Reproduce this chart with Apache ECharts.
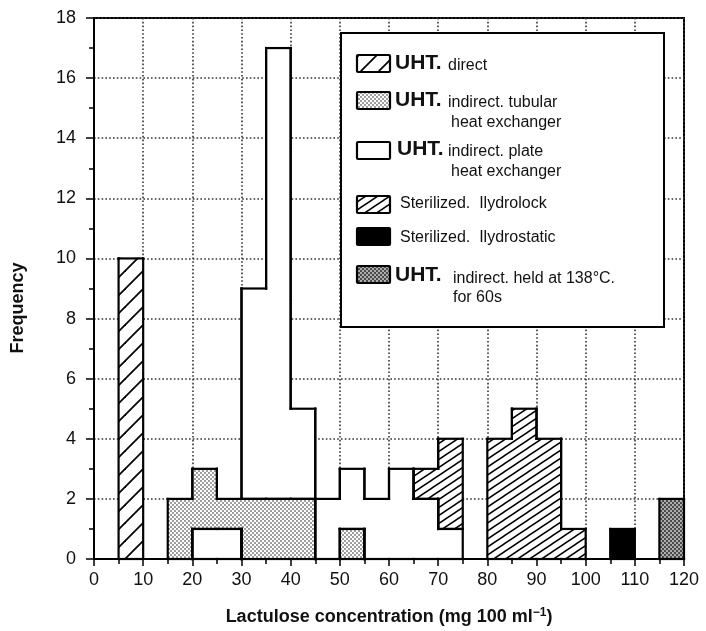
<!DOCTYPE html>
<html>
<head>
<meta charset="utf-8">
<script src="https://cdn.jsdelivr.net/npm/echarts@6/dist/echarts.min.js"></script>
<style>
  html, body { margin: 0; padding: 0; background: #fff; }
  #chart { width: 706px; height: 631px; }
</style>
</head>
<body>
<div id="chart"></div>
<script>
const FONT = '"Liberation Sans", Arial, Helvetica, sans-serif';

// Histogram bins are 5 mg/100 ml wide; each row is [bin start, stacked base, frequency]
const binWidth = 5;
const uhtDirect       = [[5, 0, 10]];
const uhtTubular      = [[15, 0, 2], [20, 1, 2], [25, 1, 1], [30, 0, 2], [35, 0, 2], [40, 0, 2], [50, 0, 1]];
const uhtPlate        = [[20, 0, 1], [25, 0, 1], [30, 2, 7], [35, 2, 15], [40, 2, 3], [45, 0, 2], [50, 1, 2],
                         [55, 0, 2], [60, 0, 3], [65, 0, 2], [70, 0, 1]];
const sterHydrolock   = [[65, 2, 1], [70, 1, 3], [80, 0, 4], [85, 0, 5], [90, 0, 4], [95, 0, 1]];
const sterHydrostatic = [[105, 0, 1]];
const uhtHeld138      = [[115, 0, 2]];

// Axis ranges and tick steps
const xRange = [0, 120], xStep = 10;
const yRange = [0, 18],  yStep = 2;

const xTitle = 'Lactulose concentration (mg 100 ml';
const yTitle = 'Frequency';

// ---- fill patterns ----
function tile(w, h, draw) {
  const c = document.createElement('canvas');
  c.width = w; c.height = h;
  const g = c.getContext('2d');
  draw(g, w, h);
  return { image: c, repeat: 'repeat' };
}
function hatch(w, h, lw) {
  return tile(w, h, (g) => {
    g.fillStyle = '#fff'; g.fillRect(0, 0, w, h);
    g.strokeStyle = '#000'; g.lineWidth = lw;
    const s = h / w;
    for (const k of [-1, 0, 1]) {
      g.beginPath();
      g.moveTo(-2, h + 2 * s + k * h);
      g.lineTo(w + 2, -2 * s + k * h);
      g.stroke();
    }
  });
}
function dots(w, h, bg, fg, r) {
  return tile(w, h, (g) => {
    g.fillStyle = bg; g.fillRect(0, 0, w, h);
    g.fillStyle = fg;
    for (const p of [[1, 1], [3, 3]]) {
      g.beginPath(); g.arc(p[0], p[1], r, 0, Math.PI * 2); g.fill();
    }
  });
}
const fillDirect    = hatch(18, 18, 1.8);
const fillTubular   = dots(4, 4, '#fff', '#707070', 0.9);
const fillPlate     = '#fff';
const fillHydrolock = hatch(12, 8, 1.5);
const fillStatic    = '#000';
const fillHeld      = dots(4, 4, '#4a4a4a', '#d8d8d8', 0.95);

// Vertical edge pieces between two neighbouring bins of one histogram
function symDiff(a, b) {
  if (!b) return [a];
  const lo = Math.max(a[0], b[0]), hi = Math.min(a[1], b[1]);
  if (lo >= hi) return [a, b];
  const out = [];
  if (a[0] !== b[0]) out.push([Math.min(a[0], b[0]), lo]);
  if (a[1] !== b[1]) out.push([hi, Math.max(a[1], b[1])]);
  return out;
}

function histSeries(name, rows, fill) {
  return {
    type: 'custom',
    name,
    coordinateSystem: 'cartesian2d',
    data: rows.map(r => [r[0], r[0] + binWidth, r[1], r[1] + r[2]]),
    encode: { x: [0, 1], y: [2, 3] },
    renderItem(params, api) {
      const x0 = api.value(0), x1 = api.value(1), y0 = api.value(2), y1 = api.value(3);
      const pA = api.coord([x0, y0]), pB = api.coord([x1, y1]);
      const edge = { stroke: '#000', lineWidth: 2.2, lineCap: 'square' };
      const line = (xa, ya, xb, yb) => {
        const a = api.coord([xa, ya]), b = api.coord([xb, yb]);
        return { type: 'line', z2: 10, shape: { x1: a[0], y1: a[1], x2: b[0], y2: b[1] }, style: edge };
      };
      // fills overlap their neighbours by a pixel so no seam shows between bins
      const children = [{
        type: 'rect',
        shape: { x: pA[0] - 0.6, y: pB[1] - 0.6, width: pB[0] - pA[0] + 1.2, height: pA[1] - pB[1] + 1.2 },
        style: { fill }
      }];
      children.push(line(x0, y1, x1, y1), line(x0, y0, x1, y0));
      const prev = rows.find(q => q[0] + binWidth === x0);
      const next = rows.find(q => q[0] === x1);
      const own = [y0, y1];
      symDiff(own, prev ? [prev[1], prev[1] + prev[2]] : null)
        .forEach(s => children.push(line(x0, s[0], x0, s[1])));
      symDiff(own, next ? [next[1], next[1] + next[2]] : null)
        .forEach(s => children.push(line(x1, s[0], x1, s[1])));
      return { type: 'group', children };
    }
  };
}

// ---- legend drawn as graphic elements ----
const legendItems = [
  { fill: fillDirect,    sy: 55,  head: 'UHT.', hx: 395, hb: 71,  lines: [['direct', 448, 71]] },
  { fill: fillTubular,   sy: 92,  head: 'UHT.', hx: 395, hb: 108, lines: [['indirect. tubular', 448, 108], ['heat exchanger', 451, 128]] },
  { fill: fillPlate,     sy: 142, head: 'UHT.', hx: 397, hb: 157, lines: [['indirect. plate', 448, 157], ['heat exchanger', 451, 177]] },
  { fill: fillHydrolock, sy: 196, head: null,   lines: [['Sterilized.  Ilydrolock', 400, 209]] },
  { fill: fillStatic,    sy: 228, head: null,   lines: [['Sterilized.  Ilydrostatic', 400, 243]] },
  { fill: fillHeld,      sy: 266, head: 'UHT.', hx: 395, hb: 283, lines: [['indirect. held at 138°C.', 453, 284], ['for 60s', 453, 303]] }
];
function txt(text, x, baseline, size, bold) {
  return {
    type: 'text', z: 102, x, y: baseline - 0.35 * size,
    style: {
      text, fill: '#111', font: (bold ? 'bold ' : '') + size + 'px ' + FONT,
      align: 'left', verticalAlign: 'middle', textAlign: 'left', textVerticalAlign: 'middle'
    }
  };
}
const graphics = [{
  type: 'rect', z: 100,
  shape: { x: 341, y: 33, width: 323, height: 294 },
  style: { fill: '#fff', stroke: '#000', lineWidth: 2 }
}];
legendItems.forEach(it => {
  graphics.push({
    type: 'rect', z: 101,
    shape: { x: 357, y: it.sy, width: 33, height: 17, r: 1 },
    style: { fill: it.fill, stroke: '#000', lineWidth: 2.2 }
  });
  if (it.head) graphics.push(txt(it.head, it.hx, it.hb, 21, true));
  it.lines.forEach(l => graphics.push(txt(l[0], l[1], l[2], 16, false)));
});
graphics.push({
  type: 'text', z: 102, x: 18, y: 308, rotation: Math.PI / 2,
  style: {
    text: yTitle, fill: '#111', font: 'bold 18px ' + FONT,
    align: 'center', verticalAlign: 'middle', textAlign: 'center', textVerticalAlign: 'middle'
  }
});

const gridLine = { show: true, lineStyle: { color: '#333', width: 1.6, type: [1.6, 2.2] } };

const chart = echarts.init(document.getElementById('chart'), null, { renderer: 'canvas' });
chart.setOption({
  animation: false,
  backgroundColor: '#fff',
  grid: { left: 94, top: 18, width: 590, height: 541, show: true, borderColor: '#000', borderWidth: 2, backgroundColor: 'transparent' },
  xAxis: {
    type: 'value', min: xRange[0], max: xRange[1], interval: xStep,
    axisLine: { show: true, onZero: false, lineStyle: { color: '#000', width: 2 } },
    axisTick: { show: true, length: 7, lineStyle: { color: '#000', width: 1.5 } },
    minorTick: { show: true, splitNumber: 2, length: 5, lineStyle: { color: '#000', width: 1.5 } },
    axisLabel: { fontSize: 18, color: '#111', fontFamily: FONT, margin: 12 },
    splitLine: gridLine,
    name: '{t|' + xTitle + '}{s|−1}{t|)}',
    nameLocation: 'middle', nameGap: 48,
    nameTextStyle: {
      rich: {
        t: { fontSize: 18, fontWeight: 'bold', fontFamily: FONT, color: '#111' },
        s: { fontSize: 12, fontWeight: 'bold', fontFamily: FONT, color: '#111', verticalAlign: 'top', padding: [0, 0, 8, 0] }
      }
    }
  },
  yAxis: {
    type: 'value', min: yRange[0], max: yRange[1], interval: yStep,
    axisLine: { show: true, lineStyle: { color: '#000', width: 2 } },
    axisTick: { show: true, length: 8, lineStyle: { color: '#000', width: 1.5 } },
    minorTick: { show: true, splitNumber: 2, length: 5, lineStyle: { color: '#000', width: 1.5 } },
    axisLabel: { fontSize: 18, color: '#111', fontFamily: FONT, margin: 18 },
    splitLine: gridLine
  },
  series: [
    histSeries('UHT. direct', uhtDirect, fillDirect),
    histSeries('UHT. indirect. tubular heat exchanger', uhtTubular, fillTubular),
    histSeries('UHT. indirect. plate heat exchanger', uhtPlate, fillPlate),
    histSeries('Sterilized. Ilydrolock', sterHydrolock, fillHydrolock),
    histSeries('Sterilized. Ilydrostatic', sterHydrostatic, fillStatic),
    histSeries('UHT. indirect. held at 138°C. for 60s', uhtHeld138, fillHeld)
  ],
  graphic: { elements: graphics }
});
</script>
</body>
</html>
